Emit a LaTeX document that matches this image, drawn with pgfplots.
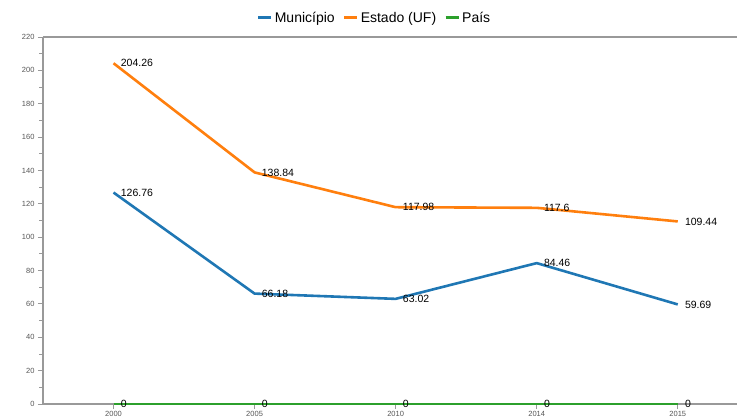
\documentclass[border=0pt]{standalone}
\usepackage{fontspec}
\setmainfont{Liberation Sans}
\usepackage{pgfplots}
\pgfplotsset{compat=1.18}
\definecolor{cblue}{HTML}{1F77B4}
\definecolor{corange}{HTML}{FF7F0E}
\definecolor{cgreen}{HTML}{2CA02C}
\definecolor{axgray}{HTML}{999999}
\definecolor{lblgray}{HTML}{555555}
\begin{document}
\begin{tikzpicture}[x=1pt,y=1pt]
\useasboundingbox (0,0) rectangle (737,418);
\begin{axis}[
  at={(43pt,14pt)}, anchor=south west,
  scale only axis, width=694pt, height=367pt,
  xmin=-0.5, xmax=4.42, ymin=0, ymax=220,
  axis x line*=bottom, axis y line*=left,
  xtick={0,1,2,3,4}, xticklabels={2000,2005,2010,2014,2015},
  ytick={0,20,...,220}, minor y tick num=1,
  tick label style={font=\fontsize{7.5}{8}\selectfont, text=lblgray},
  /pgf/number format/assume math mode=true,
  axis line style={axgray, line width=1.2pt},
  major tick length=5pt, minor tick length=3.5pt,
  every tick/.style={axgray, line width=0.9pt},
  tick align=outside,
  xticklabel style={yshift=1pt},
  clip=false,
  point meta=explicit symbolic,
  nodes near coords,
  every node near coord/.style={anchor=west, font=\fontsize{10.5}{11}\selectfont, text=black, inner sep=0pt, xshift=6pt},
  legend style={at={(0.4777,1.0518)}, anchor=center, draw=none, fill=none,
    font=\fontsize{14}{15}\selectfont, legend columns=3,
    /tikz/every even column/.append style={column sep=6pt}},
  legend image code/.code={\draw[#1, line width=3pt] (0pt,0pt) -- (13pt,0pt);},
]
\draw[axgray, line width=1.2pt] (rel axis cs:0,1) -- (rel axis cs:1,1);
\addplot[cblue, line width=2.6pt, mark=none] coordinates {
  (0,126.76) [126.76]
  (1,66.18) [66.18]
  (2,63.02) [63.02]
  (3,84.46) [84.46]
  (4,59.69) [59.69]
};
\addlegendentry{Município}
\addplot[corange, line width=2.6pt, mark=none] coordinates {
  (0,204.26) [204.26]
  (1,138.84) [138.84]
  (2,117.98) [117.98]
  (3,117.6) [117.6]
  (4,109.44) [109.44]
};
\addlegendentry{Estado (UF)}
\addplot[cgreen, line width=2.6pt, mark=none] coordinates {
  (0,0) [0]
  (1,0) [0]
  (2,0) [0]
  (3,0) [0]
  (4,0) [0]
};
\addlegendentry{País}
\end{axis}
\end{tikzpicture}
\end{document}
